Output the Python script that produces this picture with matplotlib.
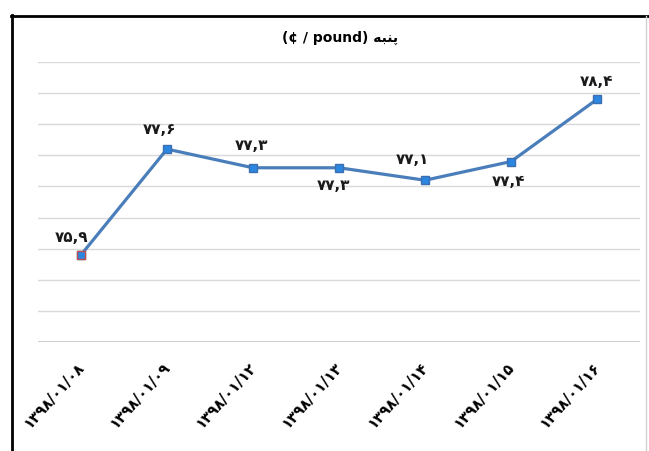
# cotton price chart (cent / pound)

import matplotlib.pyplot as plt
import matplotlib.transforms as mtransforms
from matplotlib.lines import Line2D

dates = ["۱۳۹۸/۰۱/۰۸", "۱۳۹۸/۰۱/۰۹", "۱۳۹۸/۰۱/۱۲", "۱۳۹۸/۰۱/۱۳",
         "۱۳۹۸/۰۱/۱۴", "۱۳۹۸/۰۱/۱۵", "۱۳۹۸/۰۱/۱۶"]
prices = [75.9, 77.6, 77.3, 77.3, 77.1, 77.4, 78.4]
price_labels = ["۷۵,۹", "۷۷,۶", "۷۷,۳", "۷۷,۳", "۷۷,۱", "۷۷,۴", "۷۸,۴"]

# "پنبه" written with presentation forms in visual order (no shaping in matplotlib)
title = "(¢ / pound) " + "\uFEEA\uFE92\uFEE8\uFB58"

# label offsets in pixels
offsets = [(-9, 18), (-7, 21), (-1, 23), (-5, -17), (-13, 22), (-2, -19), (0, 19)]

plt.rcParams['font.family'] = ['DejaVu Sans']

fig = plt.figure(figsize=(6.49, 4.52), dpi=100)
ax = fig.add_axes([38 / 649, 1 - 343 / 452, 602 / 649, 280 / 452])

x = list(range(len(prices)))
ax.plot(x, prices, color="#4a7ebb", linewidth=2.3, zorder=3)
ax.plot(x, prices, linestyle="none", marker="s", markersize=6,
        markerfacecolor="#2a86e0", markeredgecolor="#3d6fb0", zorder=4)
ax.plot(x[:1], prices[:1], linestyle="none", marker="s", markersize=6,
        markerfacecolor="#2a86e0", markeredgecolor="#c0504d", zorder=5)

for i in range(len(prices)):
    ax.annotate(price_labels[i], (x[i], prices[i]), xytext=offsets[i],
                textcoords="offset pixels", ha="center", va="center",
                fontsize=11, fontweight="bold", color="#1a1a1a")

ax.set_xlim(-0.5, 6.5)
ax.set_ylim(74.5, 79)
ax.set_yticks([74.5 + 0.5 * k for k in range(10)])
ax.set_yticklabels([])
ax.grid(axis="y", color="#d9d9d9", linewidth=1)
ax.set_axisbelow(True)
for s in ax.spines.values():
    s.set_visible(False)
ax.axhline(74.5, color="#c8c8c8", linewidth=1.2)

ax.set_xticks(x)
ax.set_xticklabels(dates, rotation=48, ha="right", va="top",
                   fontsize=10.5, fontweight="bold")
ax.tick_params(length=0, pad=12)
shift = mtransforms.ScaledTranslation(6 / 100, 0, fig.dpi_scale_trans)
for lbl in ax.get_xticklabels():
    lbl.set_transform(lbl.get_transform() + shift)

fig.text(340 / 649, 1 - 38 / 452, title, ha="center", va="center",
         fontsize=10, fontweight="bold")

# outer frame
fig.add_artist(Line2D([11.5 / 649, 11.5 / 649], [0, 1 - 16 / 452], color="black", linewidth=2))
fig.add_artist(Line2D([11 / 649, 1], [1 - 16.5 / 452, 1 - 16.5 / 452], color="black", linewidth=2))
fig.add_artist(Line2D([646 / 649, 646 / 649], [0, 1 - 17 / 452], color="#d0d0d0", linewidth=1))

plt.savefig("out.png", dpi=100)
